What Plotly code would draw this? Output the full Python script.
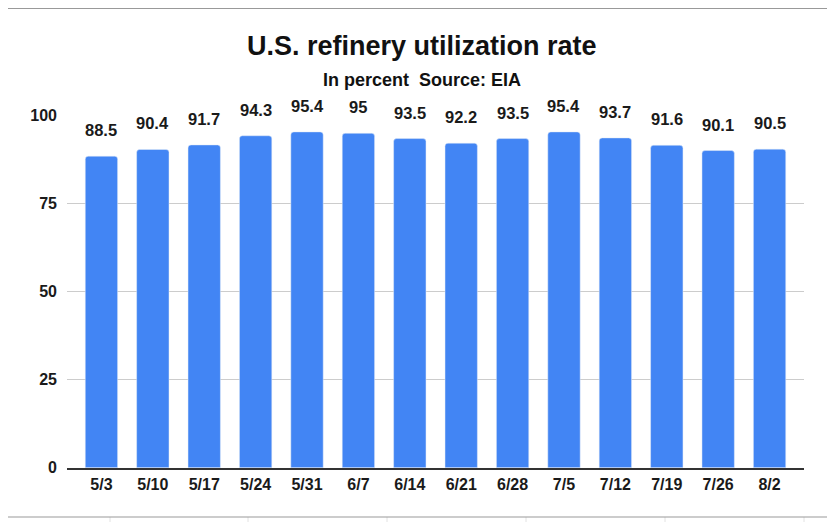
import plotly.graph_objects as go

# Weekly U.S. refinery utilization (percent), EIA
weeks = ["5/3", "5/10", "5/17", "5/24", "5/31", "6/7", "6/14",
         "6/21", "6/28", "7/5", "7/12", "7/19", "7/26", "8/2"]
utilization = [88.5, 90.4, 91.7, 94.3, 95.4, 95, 93.5,
               92.2, 93.5, 95.4, 93.7, 91.6, 90.1, 90.5]
y_ticks = [0, 25, 50, 75, 100]

# the page body adds an 8px margin, so the figure is laid out in
# window pixels minus that offset
OFF = 8
W, H = 835 - OFF, 522 - OFF
FONT = "Liberation Sans, Arial, sans-serif"


def px_x(x):
    return (x - OFF) / W


def px_y(y):
    return 1 - (y - OFF) / H


fig = go.Figure()

fig.add_trace(go.Bar(
    x=weeks,
    y=utilization,
    marker=dict(color="#4285F4", cornerradius=3),
    width=0.63,
    hoverinfo="x+y",
))

# data labels above each bar
for wk, val in zip(weeks, utilization):
    fig.add_annotation(
        x=wk, y=val, xref="x", yref="y",
        text=f"<b>{val:g}</b>", showarrow=False,
        yanchor="bottom", yshift=15,
        font=dict(family=FONT, size=16.5, color="#1a1a1a"),
    )

# spreadsheet cell grid behind the chart
shapes = []
for gx in [110, 248, 387, 526, 665, 804]:
    shapes.append(dict(type="line", xref="paper", yref="paper",
                       x0=px_x(gx), x1=px_x(gx), y0=0, y1=1,
                       line=dict(color="#e2e2e2", width=1), layer="below"))
gy = 22.3
while gy < 522:
    shapes.append(dict(type="line", xref="paper", yref="paper",
                       x0=0, x1=1, y0=px_y(gy), y1=px_y(gy),
                       line=dict(color="#e2e2e2", width=1), layer="below"))
    gy += 29
# chart card
shapes.append(dict(type="rect", xref="paper", yref="paper",
                   x0=px_x(4.5), x1=px_x(830), y0=px_y(517), y1=px_y(8.5),
                   fillcolor="white", line=dict(color="#999999", width=1.2),
                   layer="below"))

fig.update_layout(
    width=W, height=H,
    margin=dict(l=0, r=0, t=0, b=0),
    paper_bgcolor="white",
    plot_bgcolor="rgba(0,0,0,0)",
    showlegend=False,
    shapes=shapes,
    font=dict(family=FONT, color="#1a1a1a"),
    xaxis=dict(
        domain=[px_x(67), px_x(804)],
        range=[-0.67, 13.67],
        showgrid=False,
        showline=True, linecolor="#333333", linewidth=1.5,
        ticks="", ticklabelstandoff=1,
        tickfont=dict(family=FONT, size=16, color="#1a1a1a", weight="bold"),
        automargin=False, fixedrange=True,
    ),
    yaxis=dict(
        domain=[px_y(467.7), px_y(115.7)],
        range=[0, 100],
        tickvals=y_ticks,
        showgrid=True, gridcolor="#cccccc", gridwidth=1,
        zeroline=False, showline=False,
        ticks="", ticklabelstandoff=9,
        tickfont=dict(family=FONT, size=16, color="#1a1a1a", weight="bold"),
        automargin=False, fixedrange=True,
    ),
)

fig.add_annotation(
    x=0.5, y=px_y(46), xref="paper", yref="paper", yanchor="middle",
    text="<b>U.S. refinery utilization rate</b>", showarrow=False,
    font=dict(family=FONT, size=27, color="#111111"),
)
fig.add_annotation(
    x=0.5, y=px_y(80), xref="paper", yref="paper", yanchor="middle",
    text="<b>In percent&nbsp; Source: EIA</b>", showarrow=False,
    font=dict(family=FONT, size=18, color="#111111"),
)

fig.write_html("out.html")
